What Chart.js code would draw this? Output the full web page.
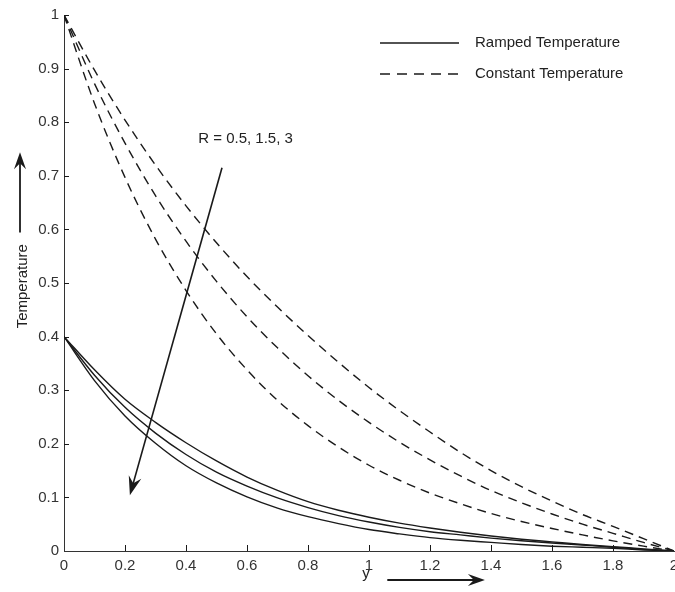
<!DOCTYPE html>
<html>
<head>
<meta charset="utf-8">
<script src="https://cdn.jsdelivr.net/npm/chart.js@4.4.1/dist/chart.umd.min.js"></script>
<style>
  html, body { margin: 0; padding: 0; overflow: hidden; background: #fff; }
  #wrap { width: 700px; height: 592px; position: relative; }
</style>
</head>
<body>
<div id="wrap"><canvas id="tempChart"></canvas></div>
<script>
// distance y from the plate
var yPos = [0, 0.1, 0.2, 0.3, 0.4, 0.5, 0.6, 0.7, 0.8, 0.9, 1.0, 1.1, 1.2, 1.3, 1.4, 1.5, 1.6, 1.7, 1.8, 1.9, 2.0];

// constant wall temperature, R = 0.5, 1.5, 3
var constR05 = [1, 0.897, 0.804, 0.720, 0.644, 0.575, 0.512, 0.455, 0.402, 0.352, 0.305, 0.262, 0.222, 0.184, 0.150, 0.120, 0.093, 0.068, 0.046, 0.023, 0];
var constR15 = [1, 0.872, 0.761, 0.663, 0.578, 0.503, 0.437, 0.379, 0.327, 0.281, 0.240, 0.203, 0.170, 0.140, 0.113, 0.090, 0.069, 0.050, 0.033, 0.016, 0];
var constR3  = [1, 0.835, 0.697, 0.582, 0.486, 0.405, 0.338, 0.281, 0.234, 0.194, 0.160, 0.132, 0.108, 0.088, 0.070, 0.055, 0.042, 0.030, 0.019, 0.009, 0];

// ramped wall temperature, R = 0.5, 1.5, 3
var rampR05 = [0.4, 0.338, 0.283, 0.240, 0.202, 0.168, 0.138, 0.113, 0.092, 0.076, 0.063, 0.052, 0.043, 0.035, 0.028, 0.022, 0.017, 0.012, 0.008, 0.004, 0];
var rampR15 = [0.4, 0.328, 0.268, 0.220, 0.180, 0.147, 0.121, 0.099, 0.081, 0.066, 0.054, 0.044, 0.036, 0.030, 0.024, 0.019, 0.015, 0.011, 0.007, 0.003, 0];
var rampR3  = [0.4, 0.318, 0.252, 0.201, 0.159, 0.127, 0.101, 0.080, 0.064, 0.051, 0.040, 0.032, 0.025, 0.020, 0.016, 0.012, 0.009, 0.007, 0.005, 0.002, 0];

var xTicks = [0, 0.2, 0.4, 0.6, 0.8, 1, 1.2, 1.4, 1.6, 1.8, 2];
var yTicks = [0, 0.1, 0.2, 0.3, 0.4, 0.5, 0.6, 0.7, 0.8, 0.9, 1];

var FONT = "'Liberation Sans', Arial, sans-serif";
var INK = "#1a1a1a";
var DASH = [9, 6];

function pts(vals) {
	return vals.map(function (v, i) { return { x: yPos[i], y: v }; });
}

function series(label, vals, dashed) {
	return {
		label: label,
		data: pts(vals),
		borderColor: INK,
		borderWidth: 1.4,
		borderDash: dashed ? DASH : [],
		pointRadius: 0,
		fill: false,
		cubicInterpolationMode: 'monotone'
	};
}

function tickText(v) {
	return String(Math.round(v * 10) / 10);
}

function arrow(ctx, x0, y0, x1, y1, len, half) {
	var a = Math.atan2(y1 - y0, x1 - x0);
	ctx.beginPath();
	ctx.moveTo(x0, y0);
	ctx.lineTo(x1 - Math.cos(a) * len * 0.6, y1 - Math.sin(a) * len * 0.6);
	ctx.stroke();
	ctx.beginPath();
	ctx.moveTo(x1, y1);
	ctx.lineTo(x1 - Math.cos(a) * len + Math.sin(a) * half, y1 - Math.sin(a) * len - Math.cos(a) * half);
	ctx.lineTo(x1 - Math.cos(a) * len * 0.65, y1 - Math.sin(a) * len * 0.65);
	ctx.lineTo(x1 - Math.cos(a) * len - Math.sin(a) * half, y1 - Math.sin(a) * len + Math.cos(a) * half);
	ctx.closePath();
	ctx.fill();
}

var annotations = {
	id: 'annotations',
	afterDraw: function (chart) {
		var ctx = chart.ctx,
			xs = chart.scales.x,
			ys = chart.scales.y,
			area = chart.chartArea;
		ctx.save();
		ctx.strokeStyle = INK;
		ctx.fillStyle = INK;
		ctx.lineWidth = 1;

		// MATLAB style inward ticks
		xTicks.forEach(function (t) {
			if (t === 0 || t === 2) return;
			var px = Math.round(xs.getPixelForValue(t)) + 0.5;
			ctx.beginPath();
			ctx.moveTo(px, area.bottom);
			ctx.lineTo(px, area.bottom - 6);
			ctx.stroke();
		});
		yTicks.forEach(function (t) {
			if (t === 0) return;
			var py = Math.round(ys.getPixelForValue(t)) + 0.5;
			ctx.beginPath();
			ctx.moveTo(area.left, py);
			ctx.lineTo(area.left + 5, py);
			ctx.stroke();
		});

		// legend
		ctx.lineWidth = 1.7;
		ctx.font = "15px " + FONT;
		ctx.textBaseline = "middle";
		ctx.fillStyle = "#222";
		ctx.beginPath();
		ctx.moveTo(380, 43);
		ctx.lineTo(459, 43);
		ctx.stroke();
		ctx.fillText("Ramped Temperature", 475, 43);
		ctx.setLineDash([10, 7]);
		ctx.beginPath();
		ctx.moveTo(380, 74);
		ctx.lineTo(459, 74);
		ctx.stroke();
		ctx.setLineDash([]);
		ctx.fillText("Constant Temperature", 475, 74);

		// R label and arrow
		ctx.fillText("R = 0.5, 1.5, 3", xs.getPixelForValue(0.44), ys.getPixelForValue(0.769));
		ctx.lineWidth = 1.6;
		ctx.fillStyle = INK;
		arrow(ctx,
			xs.getPixelForValue(0.518), ys.getPixelForValue(0.715),
			xs.getPixelForValue(0.216), ys.getPixelForValue(0.104), 19, 6.5);

		// axis labels with arrows
		ctx.fillStyle = "#222";
		ctx.save();
		ctx.translate(23, ys.getPixelForValue(0.494));
		ctx.rotate(-Math.PI / 2);
		ctx.textAlign = "center";
		ctx.fillText("Temperature", 0, 0);
		ctx.restore();
		ctx.lineWidth = 1.8;
		ctx.fillStyle = INK;
		arrow(ctx, 20, ys.getPixelForValue(0.594), 20, ys.getPixelForValue(0.744), 17, 6);

		ctx.fillStyle = "#222";
		ctx.textAlign = "center";
		ctx.fillText("y", xs.getPixelForValue(0.99), area.bottom + 23);
		ctx.fillStyle = INK;
		arrow(ctx, xs.getPixelForValue(1.06), area.bottom + 29, xs.getPixelForValue(1.38), area.bottom + 29, 17, 6);
		ctx.restore();
	}
};

new Chart(document.getElementById("tempChart").getContext("2d"), {
	type: 'line',
	data: {
		datasets: [
			series("Ramped Temperature R=0.5", rampR05, false),
			series("Ramped Temperature R=1.5", rampR15, false),
			series("Ramped Temperature R=3", rampR3, false),
			series("Constant Temperature R=0.5", constR05, true),
			series("Constant Temperature R=1.5", constR15, true),
			series("Constant Temperature R=3", constR3, true)
		]
	},
	options: {
		responsive: true,
		maintainAspectRatio: false,
		animation: false,
		layout: { padding: { top: 15, right: 26, left: 0, bottom: 0 } },
		plugins: { legend: { display: false }, tooltip: { enabled: false } },
		scales: {
			x: {
				type: 'linear',
				min: 0,
				max: 2,
				afterBuildTicks: function (s) { s.ticks = xTicks.map(function (v) { return { value: v }; }); },
				afterFit: function (s) { s.height = 41; },
				grid: { drawOnChartArea: false, drawTicks: false },
				border: { color: "#333", width: 1 },
				ticks: { padding: 6, color: "#333", maxRotation: 0, autoSkip: false, callback: tickText, font: { family: FONT, size: 15 } }
			},
			y: {
				min: 0,
				max: 1,
				afterBuildTicks: function (s) { s.ticks = yTicks.map(function (v) { return { value: v }; }); },
				afterFit: function (s) { s.width = 64; },
				grid: { drawOnChartArea: false, drawTicks: false },
				border: { color: "#333", width: 1 },
				ticks: { padding: 5, color: "#333", autoSkip: false, callback: tickText, font: { family: FONT, size: 15 } }
			}
		}
	},
	plugins: [annotations]
});
</script>
</body>
</html>
